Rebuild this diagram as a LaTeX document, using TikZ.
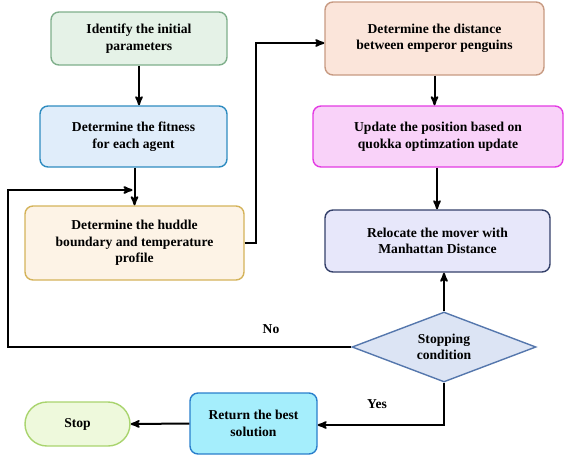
\documentclass[tikz,border=0pt]{standalone}
\usepackage{fontspec}
\setmainfont{Liberation Serif}
\usepgflibrary{arrows}
\usetikzlibrary{shapes.geometric}
\tikzstyle{arr}=[->,>=stealth',line width=2pt]

\definecolor{Finit}{HTML}{E5F2E7}  \definecolor{Dinit}{HTML}{7FAF8B}
\definecolor{Ffit}{HTML}{E0EDFA}   \definecolor{Dfit}{HTML}{2E8CC0}
\definecolor{Fhud}{HTML}{FDF3E6}   \definecolor{Dhud}{HTML}{D4B35A}
\definecolor{Fdist}{HTML}{FBE5DA}  \definecolor{Ddist}{HTML}{C79A82}
\definecolor{Fupd}{HTML}{F9D2F9}   \definecolor{Dupd}{HTML}{E33BE3}
\definecolor{Freloc}{HTML}{E7E7FA} \definecolor{Dreloc}{HTML}{34406A}
\definecolor{Fret}{HTML}{A5EEFC}   \definecolor{Dret}{HTML}{2A7FCC}
\definecolor{Fdec}{HTML}{DCE4F4}   \definecolor{Ddec}{HTML}{5577AD}
\definecolor{Fstop}{HTML}{EEF9DC}  \definecolor{Dstop}{HTML}{A9D46E}

\begin{document}
\begin{tikzpicture}[x=1pt,y=-1pt]
  \tikzstyle boxS=[line width=1.4pt,rounded corners=8pt,align=center,inner sep=2pt,
    font=\fontsize{13.6}{16.5}\selectfont\bfseries];
  \useasboundingbox (0,0) rectangle (564,456);
  \foreach \bname/\bx/\by/\bw/\bh/\btext in {
    init/139/38.5/176/53/{Identify the initial\\parameters},
    fit/133.5/136.5/187/61/{Determine the fitness\\for each agent},
    hud/134.5/243/219/74/{Determine the huddle\\boundary and temperature\\profile},
    dist/434.5/38.5/219/73/{Determine the distance\\between emperor penguins},
    upd/438/136.5/250/61/{Update the position based on\\quokka optimzation update},
    reloc/437.5/241/225/62/{Relocate the mover with\\Manhattan Distance},
    ret/253.5/423.5/127/61/{Return the best\\solution}}
  {
    \node[boxS,fill=F\bname,draw=D\bname,minimum width=\bw pt,minimum height=\bh pt]
      (\bname) at (\bx,\by) {\btext};
  }
  \node[boxS,diamond,aspect=2.6,inner sep=0pt,sharp corners,fill=Fdec,draw=Ddec,
    minimum width=184pt,minimum height=70pt] (dec) at (444,347) {Stopping\\condition};
  \node[boxS,rounded corners=22pt,fill=Fstop,draw=Dstop,minimum width=105pt,
    minimum height=44pt] (stop) at (77.5,424) {Stop};
  \node[font=\fontsize{13.6}{16.5}\selectfont\bfseries] (no) at (271,329) {No};
  \node[font=\fontsize{13.6}{16.5}\selectfont\bfseries] (yes) at (377,404) {Yes};

  \coordinate (merge) at ([xshift=-1pt]fit.south |- 0,190);
  \draw[arr] (init.south) -- (init.south |- fit.north);
  \draw[arr] ([xshift=1pt]fit.south) -- ([xshift=1pt]fit.south |- hud.north);
  \draw[arr] (dec.west) -- (8,347) |- (merge);
  \draw[arr] (hud.east) -- (256,243) |- ([yshift=-4.5pt]dist.west);
  \draw[arr] (dist.south) -- (dist.south |- upd.north);
  \draw[arr] ([xshift=-1pt]upd.south) -- ([xshift=-1pt]upd.south |- reloc.north);
  \draw[arr] (dec.north) -- (dec.north |- reloc.south);
  \draw[arr] (dec.south) |- ([yshift=-1.5pt]ret.east);
  \draw[arr] (ret.west) -- (stop.east);
\end{tikzpicture}
\end{document}
